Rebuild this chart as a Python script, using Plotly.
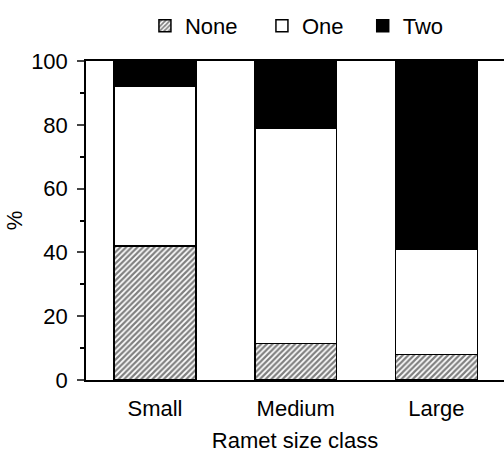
import plotly.graph_objects as go

categories = ["Small", "Medium", "Large"]
none_vals = [42, 11.5, 8]
one_vals = [50, 67.5, 33]
two_vals = [8, 21, 59]
series_names = ["None", "One", "Two"]
y_ticks = [0, 20, 40, 60, 80, 100]
y_minor = [10, 30, 50, 70, 90]

font = "Liberation Sans, Arial, sans-serif"
FS = 22
line = dict(color="black", width=1.5)

fig = go.Figure()
fig.add_trace(go.Bar(x=categories, y=none_vals, name=series_names[0], width=0.58,
                     legend="legend",
                     marker=dict(color="white", line=line,
                                 pattern=dict(shape="/", fgcolor="black", bgcolor="white",
                                              size=4, solidity=0.55))))
fig.add_trace(go.Bar(x=categories, y=one_vals, name=series_names[1], width=0.58,
                     legend="legend",
                     marker=dict(color="white", line=line)))
fig.add_trace(go.Bar(x=categories, y=two_vals, name=series_names[2], width=0.58,
                     legend="legend2",
                     marker=dict(color="black", line=line)))

leg_common = dict(orientation="h", yanchor="middle", y=1.11, xanchor="left",
                  font=dict(size=FS), entrywidth=72, traceorder="normal",
                  bgcolor="rgba(0,0,0,0)")

fig.update_layout(
    barmode="stack",
    width=504, height=454,
    margin=dict(l=86, r=0, t=61, b=74, autoexpand=False),
    paper_bgcolor="white", plot_bgcolor="white",
    font=dict(family=font, size=FS, color="black"),
    showlegend=True,
    legend=dict(x=0.141, **leg_common),
    legend2=dict(x=0.662, **leg_common),
    xaxis=dict(range=[-0.49, 2.48], showline=True, linecolor="black", linewidth=1.5,
               mirror=True, ticks="", tickfont=dict(size=FS), automargin=False,
               ticklabelstandoff=8,
               title=dict(text="Ramet size class", font=dict(size=FS), standoff=12)),
    yaxis=dict(range=[0, 100], tickvals=y_ticks, showline=True, linecolor="black",
               linewidth=1.5, ticks="outside", ticklen=7, tickwidth=1.5, showgrid=False,
               zeroline=False, tickfont=dict(size=FS), automargin=False,
               ticklabelstandoff=5,
               minor=dict(tickvals=y_minor, ticks="outside", ticklen=4,
                          tickwidth=1.5, tickcolor="black"),
               title=dict(text="%", font=dict(size=FS), standoff=2)),
)
fig.write_html("out.html", config={"displayModeBar": False},
               post_script="document.body.style.margin='0';document.body.style.padding='0';")
